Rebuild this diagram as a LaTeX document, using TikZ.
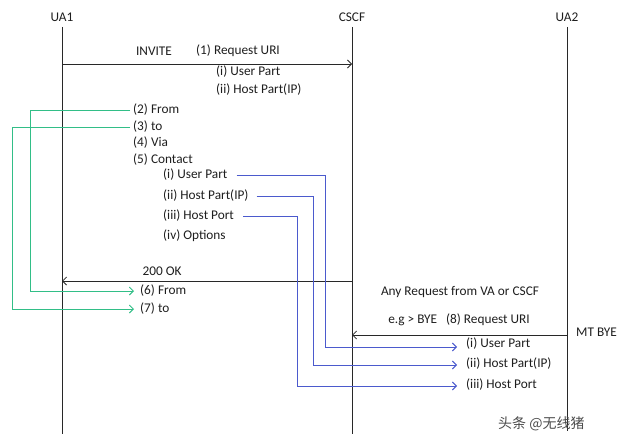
\documentclass[tikz,border=0pt]{standalone}
\usepackage{fontspec}
\setmainfont{Carlito}
\newfontfamily\cjkf{Noto Sans CJK SC}
\usetikzlibrary{arrows.meta}
\definecolor{txt}{RGB}{30,30,30}
\definecolor{grn}{RGB}{50,190,135}
\definecolor{blu}{RGB}{75,90,205}
\definecolor{life}{RGB}{40,40,40}
\tikzset{
  lbl/.style={font=\fontsize{13.3}{15}\selectfont, text=txt, inner sep=0pt, anchor=west},
  clbl/.style={font=\fontsize{13.3}{15}\selectfont, text=txt, inner sep=0pt},
  lifeline/.style={draw=life, line width=0.9pt},
  msg/.style={draw=life, line width=0.8pt, -{Straight Barb[length=4pt,width=8pt]}},
  gline/.style={draw=grn, line width=0.9pt},
  bline/.style={draw=blu, line width=0.9pt},
  garr/.style={gline, -{Straight Barb[length=4pt,width=8pt]}},
  barr/.style={bline, -{Straight Barb[length=4pt,width=8pt]}}
}
\begin{document}
\begin{tikzpicture}[x=1pt,y=-1pt]
\useasboundingbox (0,0) rectangle (640,444);
% headers
\node[clbl] (ua1) at (62,17) {UA1};
\node[clbl] (cscf) at (352,17) {CSCF};
\node[clbl] (ua2) at (567,17) {UA2};
\coordinate (ua1t) at (62,27); \coordinate (ua1b) at (62,434);
\coordinate (cst) at (352,27); \coordinate (csb) at (352,434);
\coordinate (ua2t) at (567,27); \coordinate (ua2b) at (567,431);
\draw[lifeline] (ua1t) -- (ua1b);
\draw[lifeline] (cst) -- (csb);
\draw[lifeline] (ua2t) -- (ua2b);
% INVITE
\coordinate (inv1) at (62,64); \coordinate (inv2) at (352,64);
\draw[msg] (inv1) -- (inv2);
\node[clbl] (invite) at (154,51) {INVITE};
\node[lbl] (ruri) at (196,51) {(1) Request URI};
\node[lbl] (up1) at (216,72) {(i) User Part};
\node[lbl] (hp1) at (216,90) {(ii) Host Part(IP)};
% headers list
\node[lbl] (from) at (133,110) {(2) From};
\node[lbl] (to) at (133,127) {(3) to};
\node[lbl] (via) at (133,143) {(4) Via};
\node[lbl] (contact) at (133,160) {(5) Contact};
\node[lbl] (cup) at (163,175) {(i) User Part};
\node[lbl] (chp) at (163,196) {(ii) Host Part(IP)};
\node[lbl] (chport) at (163,216) {(iii) Host Port};
\node[lbl] (copt) at (163,236) {(iv) Options};
% 200 OK
\coordinate (ok1) at (352,281); \coordinate (ok2) at (62,281);
\draw[msg] (ok1) -- (ok2);
\node[clbl] (ok) at (162,271) {200 OK};
\node[lbl] (from6) at (140,291) {(6) From};
\node[lbl] (to7) at (140,309) {(7) to};
% green connectors
\coordinate (gf1) at (30,110); \coordinate (gf2) at (30,291);
\coordinate (gt1) at (12,127); \coordinate (gt2) at (12,309);
\draw[gline] ([xshift=-3pt]from.west) -- (gf1) -- (gf2);
\draw[garr] (gf2) -- ([xshift=-6pt]from6.west);
\draw[gline] ([xshift=-3pt]to.west) -- (gt1) -- (gt2);
\draw[garr] (gt2) -- ([xshift=-6pt]to7.west);
% right side
\node[clbl] (any) at (460,292) {Any Request from VA or CSCF};
\node[clbl] (eg) at (459,320) {e.g > BYE \ \ (8) Request URI};
\node[lbl] (mtbye) at (576,332) {MT BYE};
\coordinate (bye1) at (567,335); \coordinate (bye2) at (352,335);
\draw[msg] (bye1) -- (bye2);
\node[lbl] (rup) at (466,344) {(i) User Part};
\node[lbl] (rhp) at (466,364) {(ii) Host Part(IP)};
\node[lbl] (rport) at (466,385) {(iii) Host Port};
% blue connectors
\coordinate (b1) at (325,175); \coordinate (b1b) at (325,347);
\coordinate (b2) at (313,196); \coordinate (b2b) at (313,365);
\coordinate (b3) at (297,216); \coordinate (b3b) at (297,386);
\draw[bline] ([xshift=9pt]cup.east) -- (b1) -- (b1b);
\draw[barr] (b1b) -- ([xshift=-9pt]rup.west |- b1b);
\draw[bline] ([xshift=8pt]chp.east) -- (b2) -- (b2b);
\draw[barr] (b2b) -- ([xshift=-9pt]rhp.west |- b2b);
\draw[bline] ([xshift=9pt]chport.east) -- (b3) -- (b3b);
\draw[barr] (b3b) -- ([xshift=-9pt]rport.west |- b3b);
% watermark
\node[font=\cjkf\fontsize{14}{16}\selectfont, text=black!70, anchor=west, inner sep=0pt] (wm) at (498,424) {头条 @无线猪};
\end{tikzpicture}
\end{document}
